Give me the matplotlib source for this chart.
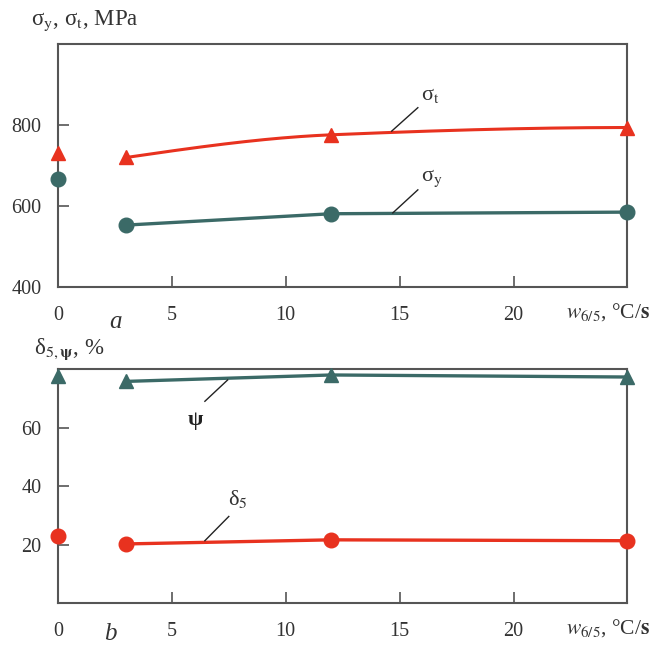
import numpy as np
import matplotlib
matplotlib.use("Agg")
import matplotlib.pyplot as plt

plt.rcParams["font.family"] = ["Liberation Serif", "DejaVu Serif"]
plt.rcParams["mathtext.fontset"] = "stix"

RED = "#e8321f"
TEAL = "#3b6a67"
SPINE = "#555555"

# cooling rate w6/5, degC/s
rate = [0, 3, 12, 25]

# panel a: strength, MPa
sigma_t = [730, 720, 776, 794]
sigma_y = [668, 553, 581, 585]

# panel b: ductility, %
psi = [77.5, 75.8, 78.0, 77.3]
delta5 = [22.8, 20.2, 21.6, 21.3]


def smooth(x, y, xs):
    """Monotone cubic Hermite curve through the points (Fritsch-Carlson),
    three-point end slopes so the curve bends like the hand-drawn one."""
    x = np.asarray(x, float)
    y = np.asarray(y, float)
    h = np.diff(x)
    d = np.diff(y) / h
    m = np.zeros_like(y)
    m[0] = ((2 * h[0] + h[1]) * d[0] - h[0] * d[1]) / (h[0] + h[1])
    m[-1] = ((2 * h[-1] + h[-2]) * d[-1] - h[-1] * d[-2]) / (h[-1] + h[-2])
    m[-1] = max(m[-1], 0.0)
    for k in range(1, len(x) - 1):
        if d[k - 1] * d[k] > 0:
            w1 = 2 * h[k] + h[k - 1]
            w2 = h[k] + 2 * h[k - 1]
            m[k] = (w1 + w2) / (w1 / d[k - 1] + w2 / d[k])
    out = np.empty_like(xs)
    for i, xv in enumerate(xs):
        k = min(np.searchsorted(x, xv, side="right") - 1, len(x) - 2)
        t = (xv - x[k]) / h[k]
        h00 = 2 * t**3 - 3 * t**2 + 1
        h10 = t**3 - 2 * t**2 + t
        h01 = -2 * t**3 + 3 * t**2
        h11 = t**3 - t**2
        out[i] = h00 * y[k] + h10 * h[k] * m[k] + h01 * y[k + 1] + h11 * h[k] * m[k + 1]
    return out


def style_axes(ax, ylim, yticks):
    ax.set_xlim(0, 25)
    ax.set_ylim(*ylim)
    ax.set_xticks([0, 5, 10, 15, 20])
    ax.set_xticklabels(["0", "5", "10", "15", "20"])
    ax.xaxis.get_major_ticks()[0].tick1line.set_visible(False)
    ax.set_yticks(yticks)
    ax.tick_params(direction="in", length=8, width=1.2, color=SPINE,
                   labelsize=14.5, pad=12, labelcolor="#333333")
    ax.tick_params(axis="x", pad=14)
    for s in ax.spines.values():
        s.set_color(SPINE)
        s.set_linewidth(1.5)


fig = plt.figure(figsize=(6.5, 6.46), dpi=100)
ax1 = fig.add_axes([0.0892, 0.5557, 0.876, 0.376])
ax2 = fig.add_axes([0.0892, 0.0666, 0.876, 0.362])

# ---- panel a
style_axes(ax1, (400, 1000), [400, 600, 800])

xs = np.linspace(rate[1], rate[-1], 200)
ax1.plot(xs, smooth(rate[1:], sigma_t[1:], xs), color=RED, lw=2.2)
ax1.plot(rate, sigma_t, ls="none", marker="^", ms=10.5, color=RED, clip_on=False, zorder=5)
ax1.plot(rate[1:], sigma_y[1:], color=TEAL, lw=2.4)
ax1.plot(rate, sigma_y, ls="none", marker="o", ms=10.5, color=TEAL, clip_on=False, zorder=5)

ax1.plot([14.65, 15.8], [785, 843], color="#222222", lw=1)
ax1.text(15.95, 872, "σ$_\\mathrm{t}$", fontsize=16, ha="left", va="center", color="#333333")
ax1.plot([14.7, 15.8], [583, 640], color="#222222", lw=1)
ax1.text(15.95, 668, "σ$_\\mathrm{y}$", fontsize=16, ha="left", va="center", color="#333333")

# ---- panel b
style_axes(ax2, (0, 80), [20, 40, 60])

ax2.plot(rate[1:], psi[1:], color=TEAL, lw=2.4)
ax2.plot(rate, psi, ls="none", marker="^", ms=10.5, color=TEAL, clip_on=False, zorder=5)
ax2.plot(rate[1:], delta5[1:], color=RED, lw=2.4)
ax2.plot(rate, delta5, ls="none", marker="o", ms=10.5, color=RED, clip_on=False, zorder=5)

ax2.plot([6.45, 7.45], [69.0, 76.3], color="#222222", lw=1)
ax2.text(6.05, 62.5, "ψ", fontsize=16, fontweight="bold", ha="center", va="center",
         color="#222222")
ax2.plot([6.45, 7.5], [21.3, 29.6], color="#222222", lw=1)
ax2.text(7.45, 35.5, "δ$_5$", fontsize=16, ha="left", va="center", color="#333333")

# ---- figure texts
xlab = "$\\mathit{w}_{6/5}$, °C/$\\mathbf{s}$"
fig.text(1.0, 1 - 312 / 646, xlab, fontsize=15.5, ha="right", va="center", color="#333333")
fig.text(1.0, 1 - 628 / 646, xlab, fontsize=15.5, ha="right", va="center", color="#333333")
fig.text(31 / 650, 1 - 21 / 646, "σ$_\\mathrm{y}$, σ$_\\mathrm{t}$, MPa", fontsize=16.5,
         ha="left", va="center", color="#333333")
fig.text(34 / 650, 1 - 349 / 646, "δ$_{5,\\mathbf{\\psi}}$, %", fontsize=16.5,
         ha="left", va="center", color="#333333")
fig.text(115 / 650, 1 - 322 / 646, "a", fontsize=18, style="italic", ha="center",
         va="center", color="#333333")
fig.text(110 / 650, 1 - 634 / 646, "b", fontsize=18, style="italic", ha="center",
         va="center", color="#333333")

fig.savefig("out.png", dpi=100)
